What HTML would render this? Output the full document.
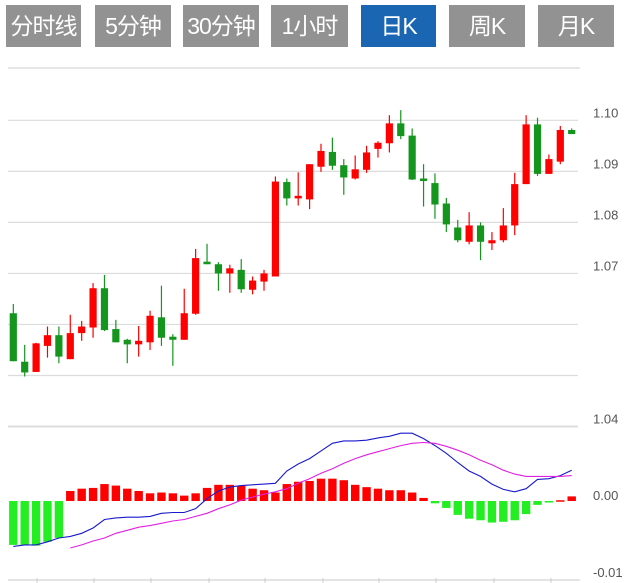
<!DOCTYPE html>
<html><head><meta charset="utf-8">
<style>
body{margin:0;background:#fff;width:642px;height:583px;overflow:hidden;font-family:"Liberation Sans","Noto Sans CJK SC",sans-serif;}
.tab{position:absolute;top:5px;height:42px;background:#929292;color:#fff;font-size:23px;line-height:42px;text-align:center;letter-spacing:-1px;font-family:"Liberation Sans","Noto Sans CJK SC",sans-serif;}
.tab.on{background:#1a66b3;}
svg{position:absolute;left:0;top:0;}
</style></head><body>
<div class="tab" style="left:6px;width:75px">分时线</div>
<div class="tab" style="left:95px;width:76px">5分钟</div>
<div class="tab" style="left:183px;width:76px">30分钟</div>
<div class="tab" style="left:271px;width:77px">1小时</div>
<div class="tab on" style="left:361px;width:75px">日K</div>
<div class="tab" style="left:449px;width:76px">周K</div>
<div class="tab" style="left:538px;width:76px">月K</div>
<svg id="chart" width="642" height="583"></svg>
<script>
// OHLC values (price units)
const opens  = [1.0622,1.0527,1.0507,1.0558,1.0579,1.0532,1.0583,1.0594,1.0671,1.0591,1.0570,1.0561,1.0565,1.0614,1.0576,1.0570,1.0621,1.0723,1.0718,1.0700,1.0707,1.0668,1.0684,1.0694,1.0879,1.0847,1.0845,1.0909,1.0938,1.0912,1.0886,1.0903,1.0944,1.0955,1.0994,1.0970,1.0886,1.0877,1.0837,1.0790,1.0762,1.0794,1.0759,1.0765,1.0794,1.0875,1.0992,1.0895,1.0919,1.0981];
const closes = [1.0528,1.0506,1.0563,1.0579,1.0537,1.0583,1.0596,1.0671,1.0589,1.0565,1.0561,1.0568,1.0617,1.0574,1.0570,1.0622,1.0730,1.0718,1.0700,1.0710,1.0669,1.0686,1.0700,1.0880,1.0847,1.0852,1.0914,1.0940,1.0911,1.0888,1.0904,1.0937,1.0956,1.0994,1.0969,1.0884,1.0881,1.0835,1.0796,1.0765,1.0794,1.0762,1.0765,1.0794,1.0875,1.0992,1.0895,1.0924,1.0981,1.0973];
const highs  = [1.0640,1.0560,1.0564,1.0596,1.0596,1.0619,1.0607,1.0681,1.0697,1.0609,1.0572,1.0597,1.0627,1.0676,1.0581,1.0670,1.0748,1.0758,1.0722,1.0717,1.0728,1.0694,1.0707,1.0890,1.0886,1.0898,1.0914,1.0954,1.0966,1.0924,1.0931,1.0950,1.0959,1.1010,1.1020,1.0984,1.0914,1.0896,1.0848,1.0805,1.0820,1.0800,1.0781,1.0828,1.0897,1.1010,1.1005,1.0933,1.0989,1.0984];
const lows   = [1.0528,1.0498,1.0507,1.0535,1.0524,1.0532,1.0568,1.0574,1.0587,1.0565,1.0524,1.0537,1.0550,1.0558,1.0519,1.0570,1.0619,1.0718,1.0666,1.0662,1.0662,1.0659,1.0666,1.0694,1.0833,1.0833,1.0826,1.0899,1.0903,1.0854,1.0884,1.0897,1.0927,1.0937,1.0963,1.0883,1.0831,1.0807,1.0781,1.0761,1.0757,1.0726,1.0746,1.0761,1.0775,1.0875,1.0891,1.0895,1.0914,1.0973];
const priceTicks = [1.10,1.09,1.08,1.07,1.06,1.05,1.04];
const priceTickLabels = ["1.10","1.09","1.08","1.07","","",""];
// MACD (units of 0.0001)
const macdHist = [-57,-57,-58,-53,-48,13,16,17,22,20,16,13,10,11,10,7,10,17,21,21,20,16,14,11,22,25,26,29,29,27,21,18,16,14,14,11,4,-3,-9,-18,-23,-25,-28,-27,-25,-17,-5,-2,1,6];
const difVals = [-59,-57,-57,-53,-48,-46,-42,-35,-24,-22,-21,-21,-20,-16,-15,-15,-10,3,13,18,20,21,22,23,39,48,55,65,75,78,78,79,82,84,88,88,81,72,62,50,39,32,22,15,12,16,28,29,33,40];
const deaVals = [null,null,null,null,null,-61,-57,-52,-48,-42,-38,-34,-32,-29,-26,-24,-20,-16,-10,-5,1,5,9,12,16,23,29,36,42,49,55,60,64,68,72,75,76,75,71,66,60,53,47,40,35,32,32,32,32,33];
const macdTickLabels = ["0.00","-0.01"];

const svg = document.getElementById('chart');
const NS = 'http://www.w3.org/2000/svg';
function mk(tag, attrs){const e=document.createElementNS(NS,tag);for(const k in attrs)e.setAttribute(k,attrs[k]);svg.appendChild(e);return e;}
const xAt = i => 13.3 + i*11.396;
const yP = p => 120.3 + (1.10 - p)*5104;
const yM = v => 501 - v*0.77;

// top separator
let g = mk('line',{x1:8,y1:68,x2:580,y2:68,stroke:'#e6e6e6','stroke-width':2});



priceTicks.forEach((p,k)=>{
  const y = yP(p);
  const l = mk('line',{x1:8,y1:y,x2:578,y2:y,stroke:'#dcdcdc','stroke-width':k==6?2:1.2});
  
  
  const t = mk('text',{x:593,y:y-3,'font-size':13,fill:'#555','font-family':'Liberation Sans, sans-serif'});
  t.textContent = k==6 ? '1.04' : priceTickLabels[k];
  if(k==6){t.setAttribute('y',y-3);}
  
  
});

opens.forEach((o,i)=>{
  const c = closes[i], up = c >= o;
  const col = up ? '#ff0000' : '#14961e';
  const x = xAt(i);
  const w = mk('line',{x1:x,y1:yP(highs[i]),x2:x,y2:yP(lows[i]),stroke:col,'stroke-width':1.2});
  
  
  const top = yP(Math.max(o,c)), bot = yP(Math.min(o,c));
  const r = mk('rect',{x:x-3.6,y:top,width:7.2,height:Math.max(bot-top,2),fill:col});
  
  
});

// MACD histogram
macdHist.forEach((v,i)=>{
  const x = xAt(i);
  const y0 = yM(0), y1 = yM(v);
  const r = mk('rect',{x:x-4.2,y:Math.min(y0,y1),width:8.4,height:Math.max(Math.abs(y1-y0),1.5),fill:v>=0?'#ff0000':'#22ee22'});
  
  
});
function poly(vals,col,name){
  const pts=[];vals.forEach((v,i)=>{if(v!==null)pts.push(xAt(i).toFixed(1)+','+yM(v).toFixed(1));});
  const p = mk('polyline',{points:pts.join(' '),fill:'none',stroke:col,'stroke-width':1.1});
  
  
}
poly(difVals,'#1a1acc','dif-line');
poly(deaVals,'#e020e0','dea-line');
[[0,0],[-100,1]].forEach(([v,k])=>{
  const t = mk('text',{x:593,y:yM(v)-1,'font-size':13,fill:'#555','font-family':'Liberation Sans, sans-serif'});
  t.textContent = macdTickLabels[k];
  
  
});
// bottom axis
const ax = mk('line',{x1:8,y1:580,x2:580,y2:580,stroke:'#dcdcdc','stroke-width':1.5});


[37,94,151,209,265,323,379,436,494,551].forEach(x=>{
  const t = mk('line',{x1:x,y1:578,x2:x,y2:583,stroke:'#ccc','stroke-width':1});
  
  
});
</script>
</body></html>
